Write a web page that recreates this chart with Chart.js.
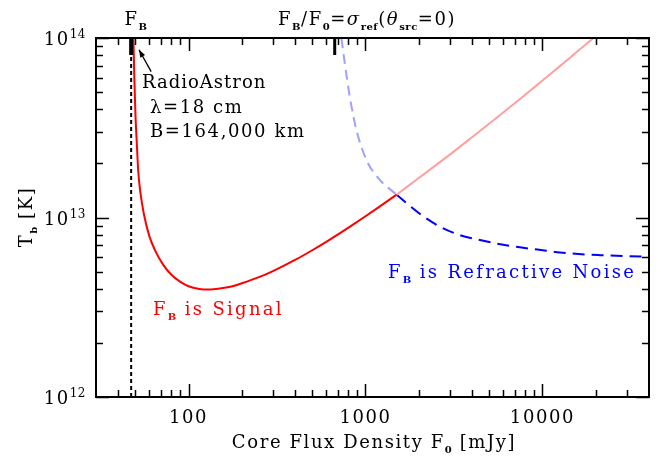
<!DOCTYPE html>
<html lang="en">
<head>
    <meta charset="UTF-8">
    <title>Tb vs core flux density</title>
    <script src="https://cdn.jsdelivr.net/npm/chart.js"></script>
    <style>
        body { margin: 0; background: #fff; }
        canvas { display: block; }
    </style>
</head>
<body>
    <canvas id="tbChart" width="661" height="456"></canvas>

    <script>
        // F_B is signal (solid red, then pale red beyond the crossing)
        const redFlux = [48.8, 49.4, 50.1, 51, 52, 53.5, 56, 60, 65, 72, 80, 90, 100, 115, 130, 150, 175, 200, 250, 300, 400, 500, 600, 700, 850, 1000, 1200, 1500];
        const redTb = [1.0e14, 6.0e13, 3.8e13, 2.6e13, 1.8e13, 1.37e13, 1.04e13, 7.9e12, 6.5e12, 5.45e12, 4.8e12, 4.38e12, 4.14e12, 4.0e12, 3.97e12, 4.02e12, 4.13e12, 4.3e12, 4.65e12, 5.03e12, 5.8e12, 6.57e12, 7.32e12, 8.05e12, 9.12e12, 1.016e13, 1.15e13, 1.34e13];
        const paleRedFlux = [1500, 2000, 2750, 4000, 5500, 7000, 8500, 10000, 12500, 15000, 17500, 20000];
        const paleRedTb = [1.34e13, 1.66e13, 2.1e13, 2.8e13, 3.59e13, 4.34e13, 5.08e13, 5.79e13, 6.95e13, 8.08e13, 9.18e13, 1.026e14];

        // F_B is refractive noise (pale blue dashes, then blue dashes beyond the crossing)
        const paleBlueFlux = [731, 764, 815, 889, 1013, 1205, 1500];
        const paleBlueTb = [1.0e14, 7.22e13, 4.71e13, 3.07e13, 2.09e13, 1.62e13, 1.34e13];
        const blueFlux = [1500, 2000, 2630, 3500, 4430, 6000, 7460, 10000, 12560, 16000, 21100, 30000, 40000];
        const blueTb = [1.34e13, 1.06e13, 8.9e12, 7.92e12, 7.49e12, 7.05e12, 6.82e12, 6.57e12, 6.39e12, 6.26e12, 6.17e12, 6.09e12, 6.04e12];

        // vertical markers
        const fluxFB = 47.4;          // F_B
        const fluxRefLimit = 670;     // F_B/F_0 = sigma_ref

        // axis ticks
        const xMajor = [100, 1000, 10000];
        const xLabels = ['100', '1000', '10000'];
        const xMinor = [40, 50, 60, 70, 80, 90, 200, 300, 400, 500, 600, 700, 800, 900,
                        2000, 3000, 4000, 5000, 6000, 7000, 8000, 9000, 20000, 30000];
        const yMajor = [1e12, 1e13, 1e14];
        const yLabelExp = ['12', '13', '14'];
        const yMinor = [2e12, 3e12, 4e12, 5e12, 6e12, 7e12, 8e12, 9e12,
                        2e13, 3e13, 4e13, 5e13, 6e13, 7e13, 8e13, 9e13];

        const pts = (xs, ys) => xs.map((x, i) => ({ x: x, y: ys[i] }));

        const FONT = '"DejaVu Serif", serif';

        // one line of text with sub/superscripts
        function richText(ctx, parts, x, y, align, color, gap) {
            const g = gap === undefined ? 1.6 : gap;
            const fontFor = p => {
                if (p.sub) return 'bold 10px ' + FONT;
                if (p.sup) return '12px ' + FONT;
                return (p.it ? 'italic ' : '') + '18px ' + FONT;
            };
            const spacing = p => (p.sub || p.sup) ? '0.5px' : g + 'px';
            let w = 0;
            parts.forEach(p => { ctx.font = fontFor(p); ctx.letterSpacing = spacing(p); w += ctx.measureText(p.t).width; });
            let cx = align === 'center' ? x - w / 2 : (align === 'right' ? x - w : x);
            ctx.fillStyle = color || '#000';
            ctx.textAlign = 'left';
            ctx.textBaseline = 'alphabetic';
            parts.forEach(p => {
                ctx.font = fontFor(p);
                ctx.letterSpacing = spacing(p);
                const dy = p.sub ? 5 : (p.sup ? -7 : 0);
                ctx.fillText(p.t, cx, y + dy);
                cx += ctx.measureText(p.t).width;
            });
            ctx.letterSpacing = '0px';
        }

        const decorations = {
            id: 'decorations',
            afterDatasetsDraw(chart) {
                const ctx = chart.ctx;
                const xs = chart.scales.x, ys = chart.scales.y;
                const a = chart.chartArea;
                ctx.save();
                ctx.strokeStyle = '#000';

                // ticks, pointing inward on all four sides
                const tick = (v, len, horizontal) => {
                    ctx.beginPath();
                    if (horizontal) {
                        const px = Math.round(xs.getPixelForValue(v)) + 0.5;
                        ctx.moveTo(px, a.bottom); ctx.lineTo(px, a.bottom - len);
                        ctx.moveTo(px, a.top); ctx.lineTo(px, a.top + len);
                    } else {
                        const py = Math.round(ys.getPixelForValue(v)) + 0.5;
                        ctx.moveTo(a.left, py); ctx.lineTo(a.left + len, py);
                        ctx.moveTo(a.right, py); ctx.lineTo(a.right - len, py);
                    }
                    ctx.stroke();
                };
                ctx.lineWidth = 1.5;
                xMajor.forEach(v => tick(v, 13, true));
                xMinor.forEach(v => tick(v, 7, true));
                yMajor.forEach(v => tick(v, 13, false));
                yMinor.forEach(v => tick(v, 7, false));

                // frame
                ctx.lineWidth = 2;
                ctx.strokeRect(a.left, a.top, a.right - a.left, a.bottom - a.top);

                // thick markers hanging from the top axis
                ctx.fillStyle = '#000';
                [[fluxFB, 4], [fluxRefLimit, 3]].forEach(([v, w]) => {
                    const px = xs.getPixelForValue(v);
                    ctx.fillRect(px - w / 2, a.top, w, 17);
                });

                // arrow pointing at the red curve
                const hx = xs.getPixelForValue(52.5), hy = ys.getPixelForValue(8.6e13);
                const tx = xs.getPixelForValue(61.5), ty = ys.getPixelForValue(6.5e13);
                ctx.lineWidth = 1.3;
                ctx.beginPath(); ctx.moveTo(tx, ty); ctx.lineTo(hx, hy); ctx.stroke();
                const ang = Math.atan2(hy - ty, hx - tx);
                ctx.beginPath();
                ctx.moveTo(hx, hy);
                ctx.lineTo(hx - 8 * Math.cos(ang - 0.35), hy - 8 * Math.sin(ang - 0.35));
                ctx.lineTo(hx - 8 * Math.cos(ang + 0.35), hy - 8 * Math.sin(ang + 0.35));
                ctx.closePath(); ctx.fill();

                // tick labels
                xMajor.forEach((v, i) => {
                    richText(ctx, [{ t: xLabels[i] }], xs.getPixelForValue(v), 423, 'center');
                });
                yMajor.forEach((v, i) => {
                    const py = ys.getPixelForValue(v);
                    richText(ctx, [{ t: '10' }, { t: yLabelExp[i], sup: true }], 86, py + 7, 'right');
                });

                // axis titles
                richText(ctx, [{ t: 'Core Flux Density F' }, { t: '0', sub: true }, { t: ' [mJy]' }], 374, 448, 'center');
                ctx.save();
                ctx.translate(32, 217);
                ctx.rotate(-Math.PI / 2);
                richText(ctx, [{ t: 'T' }, { t: 'b', sub: true }, { t: ' [K]' }], 0, 0, 'center');
                ctx.restore();

                // top labels
                richText(ctx, [{ t: 'F' }, { t: 'B', sub: true }], 136, 25, 'center');
                richText(ctx, [{ t: 'F' }, { t: 'B', sub: true }, { t: '/F' }, { t: '0', sub: true }, { t: '=' },
                               { t: 'σ', it: true }, { t: 'ref', sub: true }, { t: '(' }, { t: 'θ', it: true },
                               { t: 'src', sub: true }, { t: '=0)' }], 367, 25, 'center');

                // annotations
                richText(ctx, [{ t: 'RadioAstron' }], 142, 88, 'left', '#000', 1.0);
                richText(ctx, [{ t: 'λ=18 cm' }], 150, 113, 'left');
                richText(ctx, [{ t: 'B=164,000 km' }], 150, 137, 'left');
                richText(ctx, [{ t: 'F' }, { t: 'B', sub: true }, { t: ' is Signal' }], 153, 315, 'left', '#ff0000', 2.3);
                richText(ctx, [{ t: 'F' }, { t: 'B', sub: true }, { t: ' is Refractive Noise' }], 388, 278, 'left', '#0000ff', 2.3);

                ctx.restore();
            }
        };

        const ctx = document.getElementById('tbChart').getContext('2d');
        new Chart(ctx, {
            type: 'scatter',
            data: {
                datasets: [
                    { data: pts(redFlux, redTb), borderColor: '#ff0000', borderWidth: 2, showLine: true, pointRadius: 0, cubicInterpolationMode: 'monotone' },
                    { data: pts(paleRedFlux, paleRedTb), borderColor: '#ffa0a0', borderWidth: 2, showLine: true, pointRadius: 0, cubicInterpolationMode: 'monotone' },
                    { data: pts(blueFlux, blueTb), borderColor: '#0000ff', borderWidth: 2, borderDash: [12, 7], showLine: true, pointRadius: 0, cubicInterpolationMode: 'monotone' },
                    { data: pts(paleBlueFlux, paleBlueTb), borderColor: '#a0a0ff', borderWidth: 2, borderDash: [10, 6], showLine: true, pointRadius: 0, cubicInterpolationMode: 'monotone' },
                    { data: pts([fluxFB, fluxFB], [1e12, 1e14]), borderColor: '#000', borderWidth: 2, borderDash: [4, 3], showLine: true, pointRadius: 0 }
                ]
            },
            options: {
                responsive: false,
                animation: false,
                devicePixelRatio: 1,
                layout: { padding: { left: 96, top: 38, right: 12, bottom: 59 } },
                plugins: { legend: { display: false }, tooltip: { enabled: false } },
                scales: {
                    x: { type: 'logarithmic', min: 30, max: 40000, display: false },
                    y: { type: 'logarithmic', min: 1e12, max: 1e14, display: false }
                }
            },
            plugins: [decorations]
        });
    </script>
</body>
</html>
